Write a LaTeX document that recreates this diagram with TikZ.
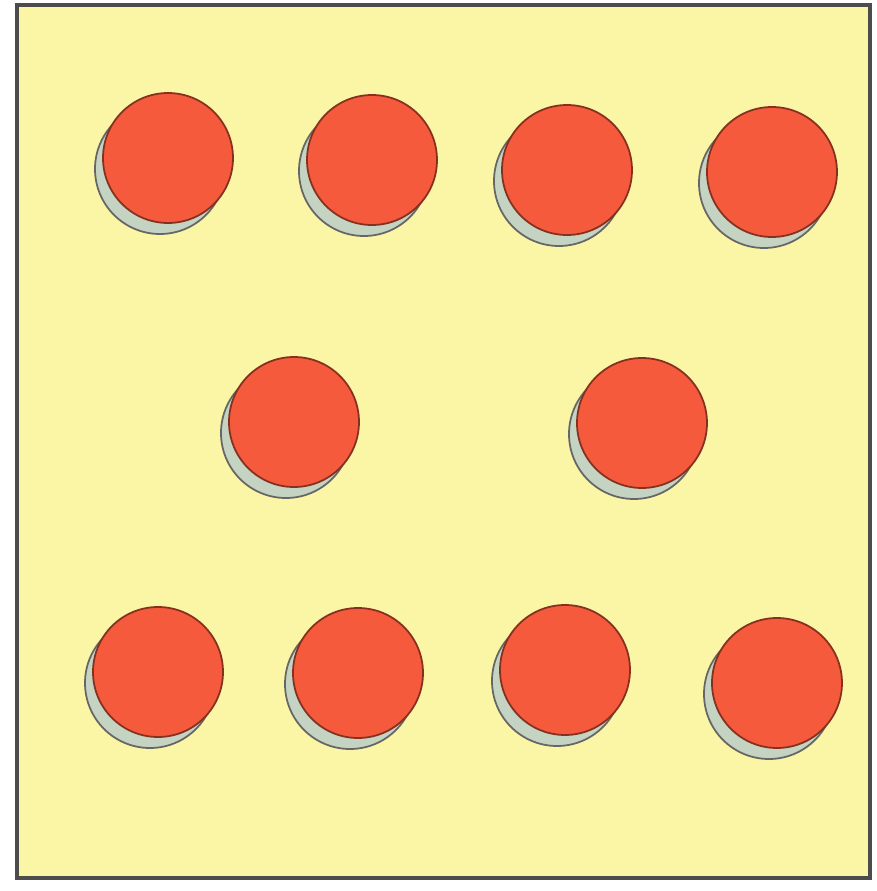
\documentclass[tikz,border=0pt]{standalone}
\usepackage{xcolor}
\usepackage{tikz}

\definecolor{cardyellow}{HTML}{FBF6A6}
\definecolor{spotred}{HTML}{F45A3B}
\definecolor{spotshade}{HTML}{C4D3C2}

\begin{document}
\begin{tikzpicture}[
    spot/.style={fill=spotred, draw=spotred!55!black, line width=0.5pt},
    shade/.style={fill=spotshade, draw=gray!80!black, line width=0.5pt}
  ]
    % Card with ten red spots
    \useasboundingbox (0, 0) rectangle (8.77, 8.91);
    \fill[white] (0, 0) rectangle (8.77, 8.91);
    \draw[fill=cardyellow, draw=black!70, line width=1.3pt] (0.17, 0.13) rectangle (8.70, 8.86);

    % top row
    \filldraw[shade] (1.60, 7.22) circle (0.65);
    \filldraw[spot] (1.68, 7.33) circle (0.65);
    \filldraw[shade] (3.64, 7.20) circle (0.65);
    \filldraw[spot] (3.72, 7.31) circle (0.65);
    \filldraw[shade] (5.59, 7.10) circle (0.65);
    \filldraw[spot] (5.67, 7.21) circle (0.65);
    \filldraw[shade] (7.64, 7.08) circle (0.65);
    \filldraw[spot] (7.72, 7.19) circle (0.65);

    % middle row
    \filldraw[shade] (2.86, 4.58) circle (0.65);
    \filldraw[spot] (2.94, 4.69) circle (0.65);
    \filldraw[shade] (6.34, 4.57) circle (0.65);
    \filldraw[spot] (6.42, 4.68) circle (0.65);

    % bottom row
    \filldraw[shade] (1.50, 2.08) circle (0.65);
    \filldraw[spot] (1.58, 2.19) circle (0.65);
    \filldraw[shade] (3.50, 2.07) circle (0.65);
    \filldraw[spot] (3.58, 2.18) circle (0.65);
    \filldraw[shade] (5.57, 2.10) circle (0.65);
    \filldraw[spot] (5.65, 2.21) circle (0.65);
    \filldraw[shade] (7.69, 1.97) circle (0.65);
    \filldraw[spot] (7.77, 2.08) circle (0.65);
\end{tikzpicture}
\end{document}
